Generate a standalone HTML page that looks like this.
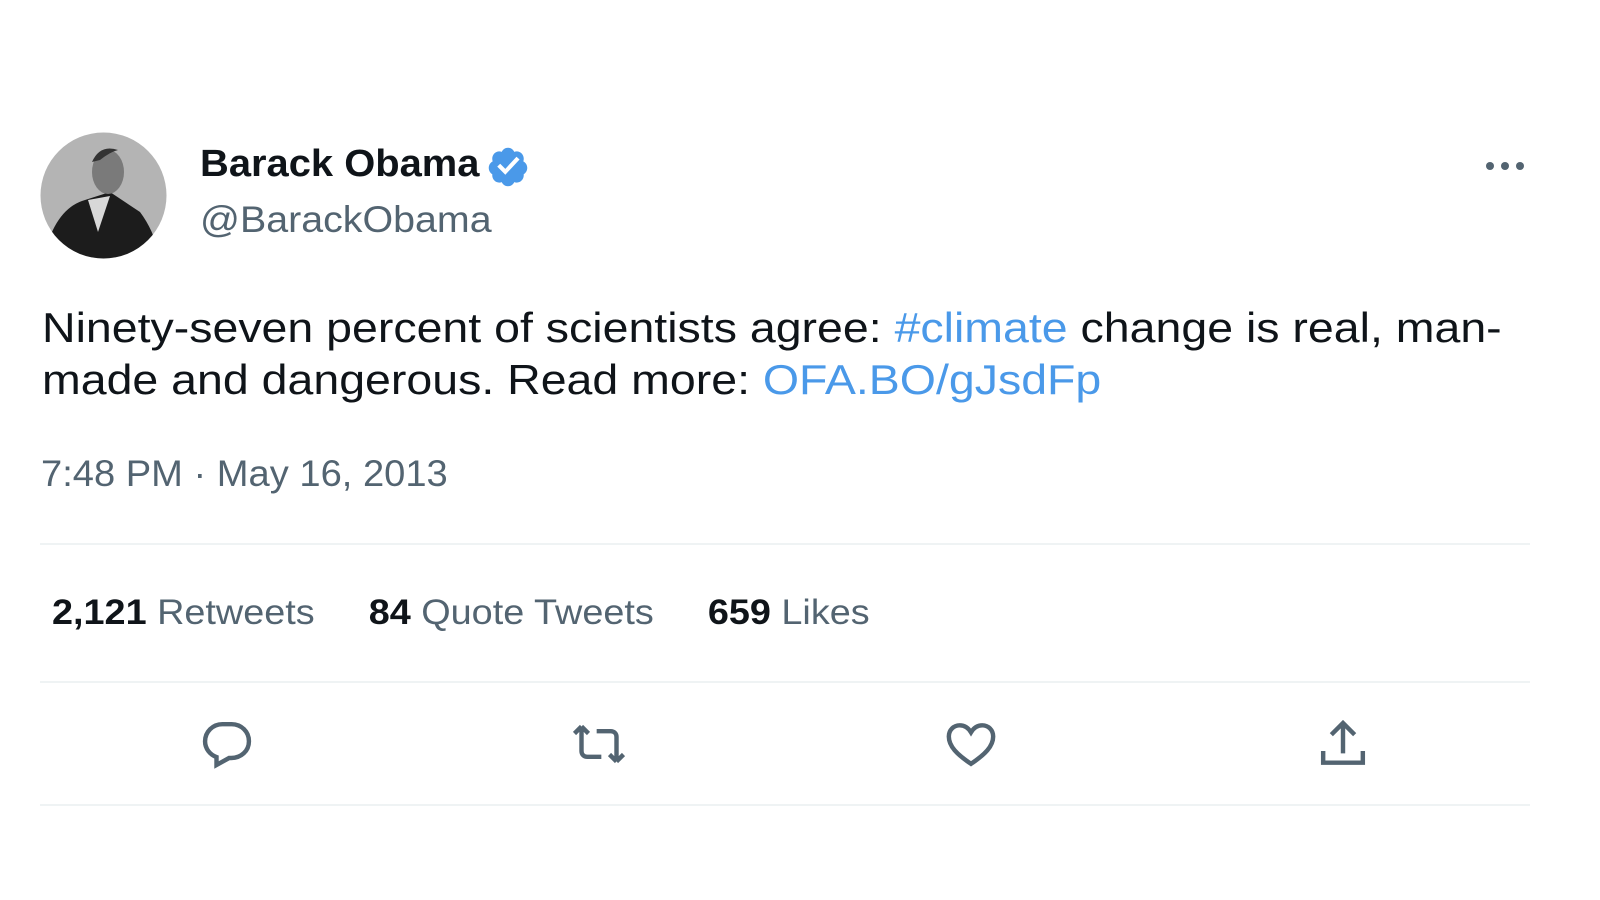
<!DOCTYPE html>
<html><head><meta charset="utf-8"><style>
body{margin:0;width:1600px;height:900px;background:#fff;position:relative;overflow:hidden;font-family:"Liberation Sans",sans-serif;}
.a{position:absolute;white-space:nowrap;transform-origin:0 0;}
.hr{position:absolute;left:40px;width:1490px;height:2px;background:#eff3f4;}
.g{color:#536471}
.b{color:#0f1419;font-weight:bold}
.link{color:#4a99e9}
</style></head><body>
<svg class="a" style="left:40px;top:132px" width="127" height="127" viewBox="0 0 127 127">
<defs><clipPath id="c"><circle cx="63.5" cy="63.5" r="63"/></clipPath></defs>
<g clip-path="url(#c)">
<rect width="127" height="127" fill="#b4b4b4"/>
<path d="M8 110 Q20 75 45 68 L70 60 Q85 70 100 80 Q115 100 120 127 L5 127Z" fill="#1c1c1c"/>
<path d="M48 68 L58 100 L70 64Z" fill="#d8d8d8"/>
<ellipse cx="68" cy="40" rx="16" ry="22" fill="#7a7a7a"/>
<path d="M52 30 Q60 12 78 18 Q70 20 60 28Z" fill="#333"/>
</g></svg>
<div class="a b" style="left:200px;top:143px;font-size:38px;transform:scaleX(1.05)">Barack Obama</div>
<svg class="a" style="left:486px;top:145px" width="44" height="44" viewBox="0 0 24 24">
<path fill="#4a99e9" d="M22.5 12.5c0-1.58-.875-2.95-2.148-3.6.154-.435.238-.905.238-1.4 0-2.210-1.710-3.998-3.818-3.998-.47 0-.92.084-1.336.25C14.818 2.415 13.51 1.5 12 1.5s-2.816.917-3.437 2.25c-.415-.165-.866-.25-1.336-.25-2.11 0-3.818 1.79-3.818 4 0 .494.083.964.237 1.4-1.272.65-2.147 2.018-2.147 3.6 0 1.495.782 2.798 1.942 3.486-.02.17-.032.34-.032.514 0 2.21 1.708 4 3.818 4 .47 0 .92-.086 1.335-.25.62 1.334 1.926 2.25 3.437 2.25 1.512 0 2.818-.916 3.437-2.25.415.163.865.248 1.336.248 2.11 0 3.818-1.79 3.818-4 0-.174-.012-.344-.033-.513 1.158-.687 1.943-1.99 1.943-3.484z"/>
<path fill="#fff" d="M10.54 16.2l-4.4-4.38 1.6-1.62 2.8 2.8 6.1-6.6 1.66 1.530z"/></svg>
<div class="a g" style="left:200px;top:199px;font-size:37px;transform:scaleX(1.064)">@BarackObama</div>
<div class="a" style="left:1484px;top:160px;width:42px;height:12px;">
<span style="position:absolute;left:2px;top:2px;width:8px;height:8px;border-radius:50%;background:#536471"></span>
<span style="position:absolute;left:17px;top:2px;width:8px;height:8px;border-radius:50%;background:#536471"></span>
<span style="position:absolute;left:32px;top:2px;width:8px;height:8px;border-radius:50%;background:#536471"></span></div>
<div class="a" style="left:42px;top:302px;font-size:41.5px;line-height:52px;color:#0f1419;transform:scaleX(1.12)">Ninety-seven percent of scientists agree: <span class="link">#climate</span> change is real, man-<br>made and dangerous. Read more: <span class="link">OFA.BO/gJsdFp</span></div>
<div class="a g" style="left:41px;top:453px;font-size:37px;transform:scaleX(1.03)">7:48 PM · May 16, 2013</div>
<div class="hr" style="top:543px"></div>
<div class="a" style="left:52px;top:593px;font-size:35px;transform:scaleX(1.08)">
<span><span class="b">2,121</span> <span class="g">Retweets</span></span><span style="display:inline-block;width:50px"></span><span><span class="b">84</span> <span class="g">Quote Tweets</span></span><span style="display:inline-block;width:50px"></span><span><span class="b">659</span> <span class="g">Likes</span></span></div>
<div class="hr" style="top:681px"></div>
<svg class="a" style="left:199px;top:716px" width="56" height="56" viewBox="0 0 24 24"><path fill="none" stroke="#536471" stroke-width="1.9" d="M10 3.5h4c4.1 0 7.4 3.2 7.4 7.3 0 4.2-3.4 7.2-7.6 7.2h-.9L7.5 21v-3.4C4.7 16.6 2.6 14 2.6 10.9 2.6 6.8 5.9 3.5 10 3.5z"/></svg>
<svg class="a" style="left:569px;top:716px" width="60" height="56" viewBox="0 0 24 24"><path fill="none" stroke="#536471" stroke-width="1.9" d="M4.5 4.5l-3 3M4.5 4.5l3 3M4.5 4.5v10.5c0 1.5 1 2.5 2.5 2.5h6M19.5 19.5l-3-3M19.5 19.5l3-3M19.5 19.5V9c0-1.5-1-2.5-2.5-2.5h-6"/></svg>
<svg class="a" style="left:943px;top:716px" width="56" height="56" viewBox="0 0 24 24"><path fill="none" stroke="#536471" stroke-width="1.9" d="M12 20.5C6 16.5 2.5 13 2.5 8.8 2.5 6 4.6 4 7.2 4c2 0 3.7 1.2 4.8 3 1.1-1.8 2.8-3 4.8-3 2.6 0 4.7 2 4.7 4.8 0 4.2-3.5 7.7-9.5 11.7z"/></svg>
<svg class="a" style="left:1315px;top:716px" width="56" height="56" viewBox="0 0 24 24"><path fill="none" stroke="#536471" stroke-width="1.9" d="M12 3v13M7 8l5-5 5 5M3.5 15v5h17v-5"/></svg>
<div class="hr" style="top:804px"></div>
</body></html>
